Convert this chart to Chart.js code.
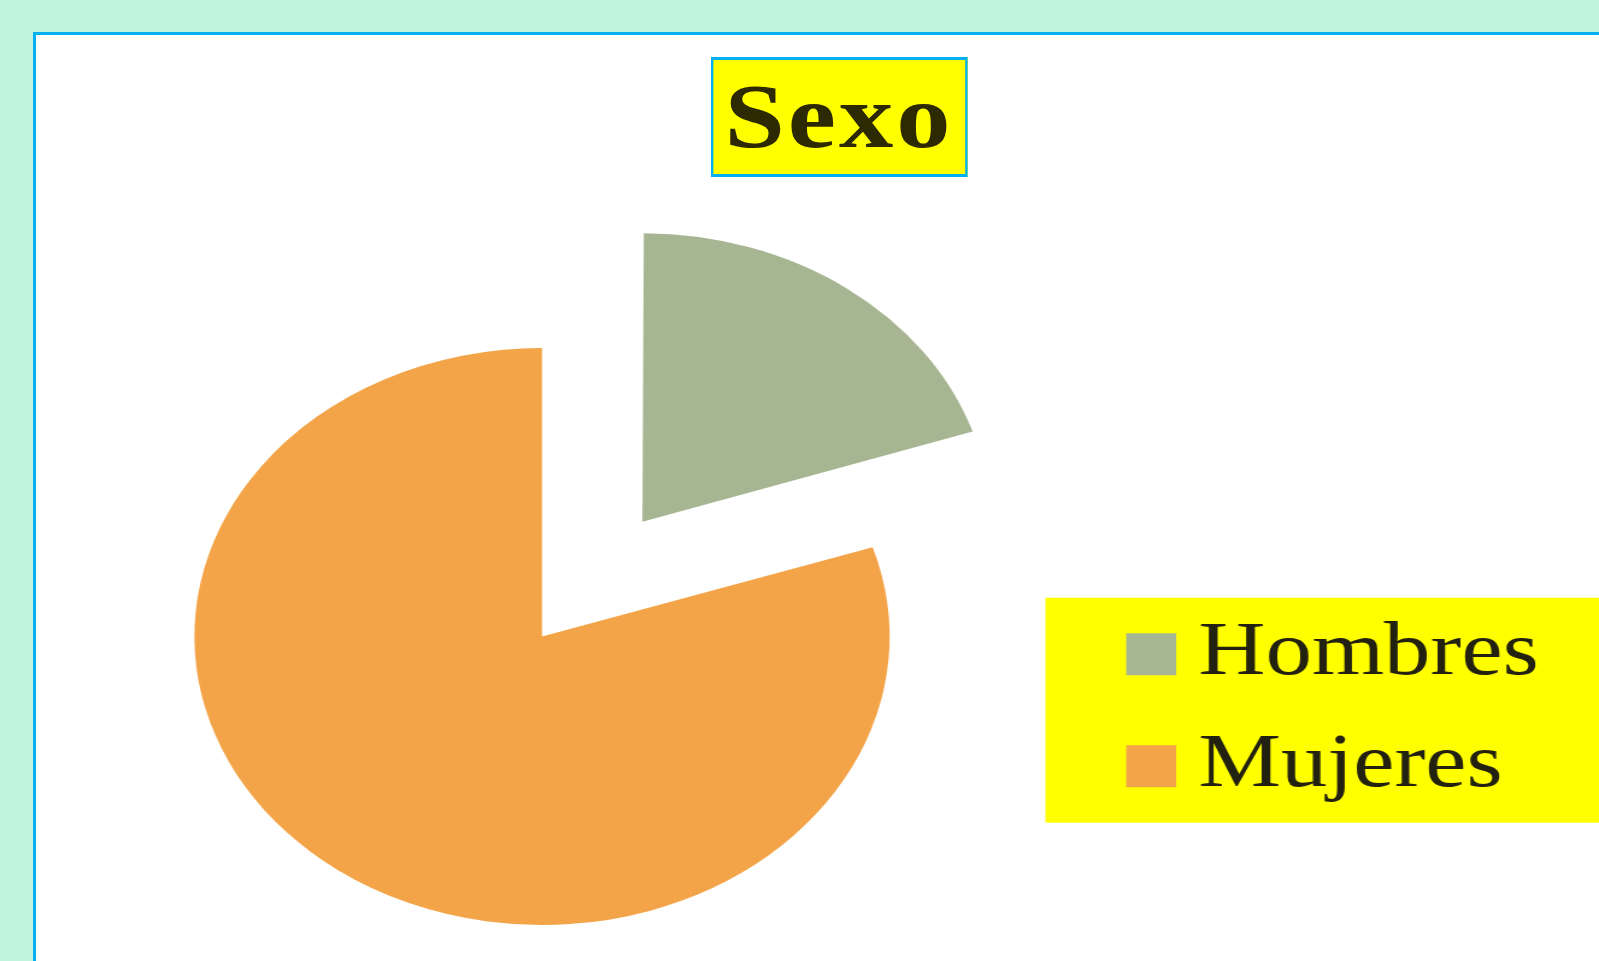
<!DOCTYPE html>
<html>
<head>
<meta charset="utf-8">
<title>Sexo</title>
<script src="https://cdn.jsdelivr.net/npm/chart.js@4.4.1/dist/chart.umd.min.js"></script>
<style>
  html, body { margin: 0; padding: 0; }
  body { width: 1599px; height: 961px; overflow: hidden; background: #BFF5DC; position: relative; }
  #panel { position: absolute; left: 33px; top: 32px; width: 1700px; height: 1000px; background: #fff; border: 3px solid #00B0F0; }
  /* the original picture is stretched sideways, so everything is drawn narrow and widened */
  #stretch { position: absolute; left: 0; top: 0; width: 1400px; height: 961px; transform: scaleX(1.205); transform-origin: 0 0; }
  #canvas { position: absolute; left: -20.3px; top: 0; width: 1400px; height: 961px; }
  #title { position: absolute; left: 590px; top: 57px; width: 212.5px; height: 120px; box-sizing: border-box;
           border-style: solid; border-color: #00B0F0; border-width: 3px 2.5px; background: #FFFF00;
           font: bold 90px "Liberation Serif", serif; line-height: 114px; letter-spacing: 2.5px;
           text-align: center; color: #2d2900; }
</style>
</head>
<body>
<div id="panel"></div>
<div id="stretch">
  <canvas id="canvas" width="1400" height="961"></canvas>
  <div id="title">Sexo</div>
</div>
<script>
const categories = ['Hombres', 'Mujeres'];
const shares = [20, 80];
const sliceColors = ['#A6B592', '#F3A448'];
const legendText = '#23210f';

const legendFontSize = 77;
const legendPad = 35;
const legendBoxW = 1.5;
const legendLeft = 939.6;   // where the legend column should start on the canvas

// yellow box behind the legend
const legendBackground = {
    id: 'legendBackground',
    beforeDraw(chart) {
        const lg = chart.legend;
        const boxes = lg.legendHitBoxes;
        if (!boxes || !boxes.length) return;
        const last = boxes[boxes.length - 1];
        const top = boxes[0].top - 18;
        const bottom = last.top + last.height + 18;
        const left = lg.left - 52;
        const ctx = chart.ctx;
        ctx.save();
        ctx.fillStyle = '#FFFF00';
        ctx.fillRect(left, top, chart.width - left, bottom - top);
        ctx.restore();
    }
};

// an offset arc is drawn a bit larger by chart.js, keep it the same size as the rest
const keepRadius = {
    id: 'keepRadius',
    afterDatasetsUpdate(chart) {
        chart.getDatasetMeta(0).data.forEach(function (arc) {
            const o = (arc.options.offset || 0) / 4;
            const fix = 1 - Math.sin(Math.min(Math.PI, arc.endAngle - arc.startAngle));
            const r = arc.outerRadius - o * fix;
            if (isFinite(r)) arc.outerRadius = r;
        });
    }
};

const canvas = document.getElementById('canvas');
const ctx = canvas.getContext('2d');

// legend width as chart.js will compute it, so the legend lands where it should
ctx.font = legendFontSize + 'px "Liberation Serif"';
let widest = 0;
categories.forEach(function (t) { widest = Math.max(widest, ctx.measureText(t).width); });
const legendWidth = legendPad + legendBoxW + legendFontSize / 2 + widest + 10;
const padRight = canvas.width - legendLeft - legendWidth;

const myChart = new Chart(ctx, {
    type: 'pie',
    data: {
        labels: categories,
        datasets: [{
            data: shares,
            backgroundColor: sliceColors,
            borderWidth: 0,
            offset: [567, 0],
            hoverOffset: 0,
            radius: 288.5,
            cutout: '0%',
            clip: false
        }]
    },
    options: {
        responsive: false,
        animation: false,
        events: [],
        layout: { padding: { left: 0, right: padRight, top: 433.3, bottom: 121.3 } },
        plugins: {
            title: { display: false },
            tooltip: { enabled: false },
            legend: {
                position: 'right',
                align: 'end',
                labels: {
                    font: { family: 'Liberation Serif', size: legendFontSize },
                    color: legendText,
                    padding: legendPad,
                    boxWidth: legendBoxW,
                    boxHeight: 2,
                    generateLabels: function (chart) {
                        return chart.data.labels.map(function (text, i) {
                            return {
                                text: text,
                                fillStyle: sliceColors[i],
                                strokeStyle: sliceColors[i],
                                lineWidth: 40,
                                lineJoin: 'miter',
                                fontColor: legendText,
                                hidden: false,
                                index: i
                            };
                        });
                    }
                }
            }
        }
    },
    plugins: [legendBackground, keepRadius]
});
</script>
</body>
</html>
